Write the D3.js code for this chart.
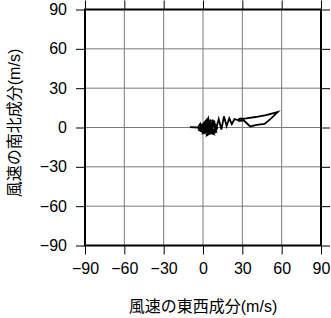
<!DOCTYPE html>
<html><head><meta charset="utf-8">
<script src="https://cdn.jsdelivr.net/npm/d3@7"></script>
<style>body{margin:0;background:#fff;}svg{display:block;}</style>
</head><body>
<svg id="c" width="331" height="318"></svg>
<script>
const xTicks = [-90, -60, -30, 0, 30, 60, 90];
const yTicks = [-90, -60, -30, 0, 30, 60, 90];
const xTitle = "風速の東西成分(m/s)";
const yTitle = "風速の南北成分(m/s)";
// wind components (u: east-west, v: north-south) in m/s
const uWind = [-10,-4,-2,1,-3,3,0,-2,4,2,-1,5,1,6,3,-2,7,2,8,0,4,6,1,9,3,5,-1,7,2,8,4,9,6,10,7,11,9,
  -3,2,5,0,8,3,-2,6,1,4,9,2,7,10,
  12,14,16,18,20,22,24,27,29,28,31,36,41,47,52,57,48,40,33,27];
const vWind = [0.3,0,3,-4,-2,5,-3,2,-5,4,-1,2,-5,6,-2,1,-4,3,1,-4,7,-3,2,-2,-6,4,-2,3,-3,-5,1,5,-1,-3,6,0,-4,
  -1,5,-4,3,-2,6,0,-5,-1,3,2,-3,4,-1,
  6.5,-1.5,8.5,1,7,2.5,6.5,5.5,7,5,5.5,0.8,2,2.7,7,11.8,9.5,8,7,6.5];

const svg = d3.select("#c");
const L = 85, R = 321, T = 9.5, B = 245.5;
const x = d3.scaleLinear().domain([-90, 90]).range([L, R]);
const y = d3.scaleLinear().domain([-90, 90]).range([B, T]);
const font = "'Liberation Sans', Arial, 'Noto Sans CJK JP', sans-serif";

// grid
const g = svg.append("g");
g.selectAll("line.gx").data(xTicks.slice(1, -1)).enter().append("line")
  .attr("x1", d => x(d)).attr("x2", d => x(d)).attr("y1", T).attr("y2", B)
  .attr("stroke", "#7a7a7a").attr("stroke-width", 1);
g.selectAll("line.gy").data(yTicks.slice(1, -1)).enter().append("line")
  .attr("y1", d => y(d)).attr("y2", d => y(d)).attr("x1", L).attr("x2", R)
  .attr("stroke", "#7a7a7a").attr("stroke-width", 1);

// axes with outward ticks on all sides
const tl = 9;
svg.append("g").attr("transform", `translate(0,${B})`)
  .call(d3.axisBottom(x).tickValues(xTicks).tickSize(tl).tickPadding(8).tickFormat(d => d < 0 ? "\u2212" + Math.abs(d) : d))
  .call(s => s.select(".domain").remove());
svg.append("g").attr("transform", `translate(0,${T})`)
  .call(d3.axisTop(x).tickValues(xTicks).tickSize(tl).tickFormat(""))
  .call(s => s.select(".domain").remove());
svg.append("g").attr("transform", `translate(${L},0)`)
  .call(d3.axisLeft(y).tickValues(yTicks).tickSize(tl).tickPadding(9).tickFormat(d => d < 0 ? "\u2212" + Math.abs(d) : d))
  .call(s => s.select(".domain").remove());
svg.append("g").attr("transform", `translate(${R},0)`)
  .call(d3.axisRight(y).tickValues(yTicks).tickSize(tl).tickFormat(""))
  .call(s => s.select(".domain").remove());
svg.selectAll(".tick line").attr("stroke", "#000").attr("stroke-width", 1);
svg.selectAll(".tick text").attr("font-family", font).attr("font-size", 16).attr("fill", "#000");

// frame
svg.append("rect").attr("x", L).attr("y", T).attr("width", R - L).attr("height", B - T)
  .attr("fill", "none").attr("stroke", "#000").attr("stroke-width", 2);

// data line
const pts = uWind.map((u, i) => [u, vWind[i]]);
svg.append("path").datum(pts)
  .attr("d", d3.line().x(d => x(d[0])).y(d => y(d[1])))
  .attr("fill", "none").attr("stroke", "#000").attr("stroke-width", 1.8).attr("stroke-linejoin", "miter");

// titles
svg.append("text").attr("x", (L + R) / 2).attr("y", 312).attr("text-anchor", "middle")
  .attr("font-family", font).attr("font-size", 16).attr("fill", "#000").text(xTitle);
svg.append("text").attr("transform", `translate(20,123) rotate(-90)`).attr("text-anchor", "middle")
  .attr("font-family", font).attr("font-size", 16).attr("fill", "#000").text(yTitle);
</script>
</body></html>
